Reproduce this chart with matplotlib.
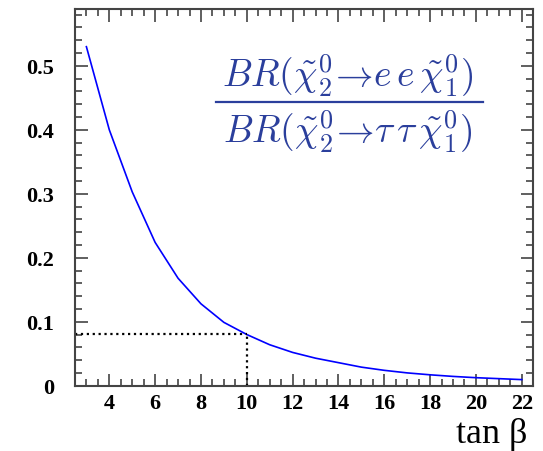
import numpy as np
import matplotlib
matplotlib.use('Agg')
import matplotlib.pyplot as plt
from matplotlib.ticker import MultipleLocator, FixedLocator

# -------------------------------------------------------------------
# ratio BR(chi2 -> e e chi1) / BR(chi2 -> tau tau chi1) vs tan(beta)
tanb  = [3, 4, 5, 6, 7, 8, 9, 10, 11, 12, 13, 14, 15, 16, 17, 18, 19, 20, 21, 22]
ratio = [0.530, 0.400, 0.303, 0.224, 0.168, 0.128, 0.099, 0.080, 0.064, 0.052,
         0.043, 0.036, 0.029, 0.024, 0.020, 0.017, 0.0145, 0.0125, 0.011, 0.0095]

mark_x = 10
mark_y = 0.081

xticks = [4, 6, 8, 10, 12, 14, 16, 18, 20, 22]
yticks = [0, 0.1, 0.2, 0.3, 0.4, 0.5]
ylabels = ['0', '0.1', '0.2', '0.3', '0.4', '0.5']

# -------------------------------------------------------------------
plt.rcParams['mathtext.fontset'] = 'cm'

fig = plt.figure(figsize=(5.43, 4.52), dpi=100)
ax = fig.add_axes([0.138, 0.1445, 0.844, 0.8335])

ax.plot(tanb, ratio, color='blue', linewidth=1.2)

# dotted guide lines
ax.plot([2.5, mark_x], [mark_y, mark_y], color='black', linestyle=':', linewidth=1.6)
ax.plot([mark_x, mark_x], [0, mark_y], color='black', linestyle=':', linewidth=1.6)

ax.set_xlim(2.5, 22.5)
ax.set_ylim(0, 0.589)

ax.xaxis.set_major_locator(FixedLocator(xticks))
ax.xaxis.set_minor_locator(MultipleLocator(0.5))
ax.yaxis.set_major_locator(FixedLocator(yticks))
ax.yaxis.set_minor_locator(MultipleLocator(0.02))
ax.set_yticklabels(ylabels)

tcol = '#444444'
ax.tick_params(which='both', direction='in', top=True, right=True, color=tcol, width=1.2)
ax.tick_params(which='major', length=9)
ax.tick_params(which='minor', length=5)
ax.tick_params(axis='y', which='major', pad=15)
ax.tick_params(axis='x', which='major', pad=5)
for sp in ax.spines.values():
  sp.set_color(tcol)
  sp.set_linewidth(1.5)

for lab in ax.get_xticklabels() + ax.get_yticklabels():
  lab.set_family('Liberation Serif')
  lab.set_fontweight('bold')
  lab.set_fontsize(16)

# axis title
fig.text(0.970, 0.020, r'tan $\mathregular{\beta}$', ha='right', va='baseline',
         fontsize=26, family='Liberation Serif')

# formula
fcol = '#2b3f9c'
fig.text(0.641, 0.832, r'$BR(\tilde{\chi}^0_2\!\rightarrow\! e\,e\,\tilde{\chi}^0_1)$',
         ha='center', va='center', fontsize=27, color=fcol)
fig.text(0.641, 0.708, r'$BR(\tilde{\chi}^0_2\!\rightarrow\! \tau\,\tau\,\tilde{\chi}^0_1)$',
         ha='center', va='center', fontsize=27, color=fcol)
fig.add_artist(plt.Line2D([0.397, 0.890], [0.772, 0.772], color=fcol, linewidth=1.6,
                          transform=fig.transFigure))

plt.savefig('out.png', dpi=100)
plt.close()
